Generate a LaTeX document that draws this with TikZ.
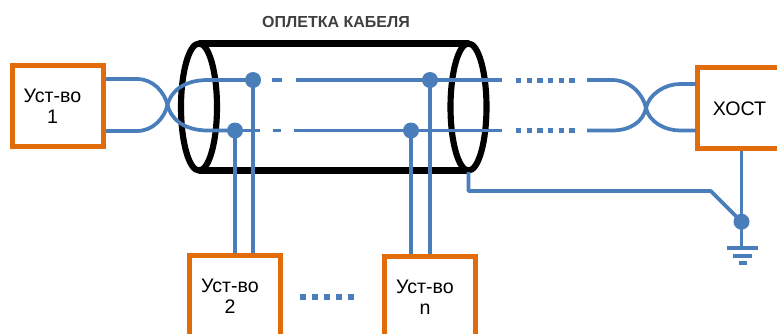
\documentclass[tikz,border=0pt]{standalone}
\usepackage{fontspec}
\setmainfont{Liberation Sans}
\usepackage{xcolor}
\usetikzlibrary{positioning}
\definecolor{wireblue}{HTML}{4A7EBB}
\definecolor{boxorange}{HTML}{E36C0A}
\definecolor{titlegrey}{HTML}{404040}
\tikzset{
  devbox/.style={draw=boxorange,line width=3.75pt,fill=white,minimum width=68.25pt,minimum height=60.5pt},
  devtext/.style={align=center,font=\fontsize{14.7}{15.8}\selectfont,inner sep=0pt},
  wire/.style={draw=wireblue,line width=2.8pt},
  junction/.style={circle,fill=wireblue,inner sep=0pt,minimum size=12pt},
  sqdots/.style={draw=wireblue,line width=3.75pt,dash pattern=on 4pt off 4pt},
  shield/.style={draw=black,line width=4.6pt}
}
\begin{document}
\begin{tikzpicture}[x=.75pt,y=-.75pt]
  \clip (0,0) rectangle (777,333);
  \fill[white] (0,0) rectangle (777,333);
  % cable braid
  \draw[shield,line width=5.2pt] (199,43.5) -- (468.5,43.5);
  \draw[shield,line width=5.2pt] (199,170.5) -- (468.5,170.5);
  \draw[shield] (199,107) ellipse (18 and 63.5);
  \draw[shield] (468.5,107) ellipse (18 and 63.5);
  \node[font=\bfseries\fontsize{12}{14}\selectfont,text=titlegrey,inner sep=0pt] (braidname) at (336,22) {ОПЛЕТКА КАБЕЛЯ};
  % devices
  \node[devbox] (dev1) at (58,106) {};
  \node[devbox] (dev2) at (234.5,296) {};
  \node[devbox] (devn) at (429.5,296.5) {};
  \node[devbox,minimum width=62.5pt] (host) at (739.5,107.8) {};
  \node[devtext] (dev1txt) at (52.5,106.5) {Уст-во\\1};
  \node[devtext] (dev2txt) at (230,296.5) {Уст-во\\2};
  \node[devtext] (devntxt) at (425,297.5) {Уст-во\\n};
  \node[devtext] (hosttxt) at (739.5,109) {ХОСТ};
  % junctions
  \node[junction] (jA2) at (253,80) {};
  \node[junction] (jB2) at (235,130.5) {};
  \node[junction] (jAn) at (430,80) {};
  \node[junction] (jBn) at (411,130.5) {};
  \node[junction] (jgnd) at (741.5,221.7) {};
  % free ends of the wires
  \coordinate (xl) at (167.5,105);
  \coordinate (xr) at (646,108);
  \coordinate (aEnd) at (502,80);
  \coordinate (bEnd) at (502,130.5);
  \coordinate (aOut) at (587,80);
  \coordinate (bOut) at (587,130.5);
  \coordinate (aHost) at (696,84);
  \coordinate (bHost) at (696,130.5);
  \coordinate (dev1a) at (106,79);
  \coordinate (dev1b) at (106,131);
  % left twist
  \draw[wire] (dev1a) -- (137,79) .. controls (153,79) and (164.5,92) .. (xl) .. controls (170.5,118) and (183,130.5) .. (208,130.5) -- (jB2.center);
  \draw[wire] (dev1b) -- (137,131) .. controls (153,131) and (164.5,118) .. (xl) .. controls (170.5,92) and (183,80) .. (208,80) -- (jA2.center);
  % broken part of the pair
  \draw[wire] (jA2.center) -- (260,80) (272,80) -- (282,80) (296,80) -- (aEnd);
  \draw[wire] (jB2.center) -- (260,130.5) (273,130.5) -- (281,130.5) (294,130.5) -- (bEnd);
  \draw[sqdots] (516,80) -- (576,80);
  \draw[sqdots] (516,130.5) -- (576,130.5);
  % right twist
  \draw[wire] (aOut) -- (612,80) .. controls (630,80) and (643,94) .. (xr) .. controls (649,122) and (665,130.5) .. (680,130.5) -- (bHost);
  \draw[wire] (bOut) -- (612,130.5) .. controls (630,130.5) and (643,122) .. (xr) .. controls (649,94) and (665,84) .. (680,84) -- (aHost);
  % drops
  \draw[wire] (jB2.center) -- (jB2.center |- dev2.north);
  \draw[wire] (jA2.center) -- (jA2.center |- dev2.north);
  \draw[wire] (jBn.center) -- (jBn.center |- devn.north);
  \draw[wire] (jAn.center) -- (jAn.center |- devn.north);
  \draw[sqdots,line width=4.5pt,dash pattern=on 4.5pt off 4.45pt] (300,297) -- (355,297);
  % ground
  \coordinate (gnd) at (741.5,248);
  \draw[wire] (host.south -| jgnd) -- (gnd);
  \draw[wire,line join=round] (468.5,172) -- (468.5,191) -- (710.7,191) -- (jgnd.center);
  \draw[wire,line width=3pt] (726.7,248) -- (757.7,248);
  \draw[wire,line width=3pt] (733,255.7) -- (752,255.7);
  \draw[wire,line width=3pt] (739,263) -- (746.7,263);
\end{tikzpicture}
\end{document}
